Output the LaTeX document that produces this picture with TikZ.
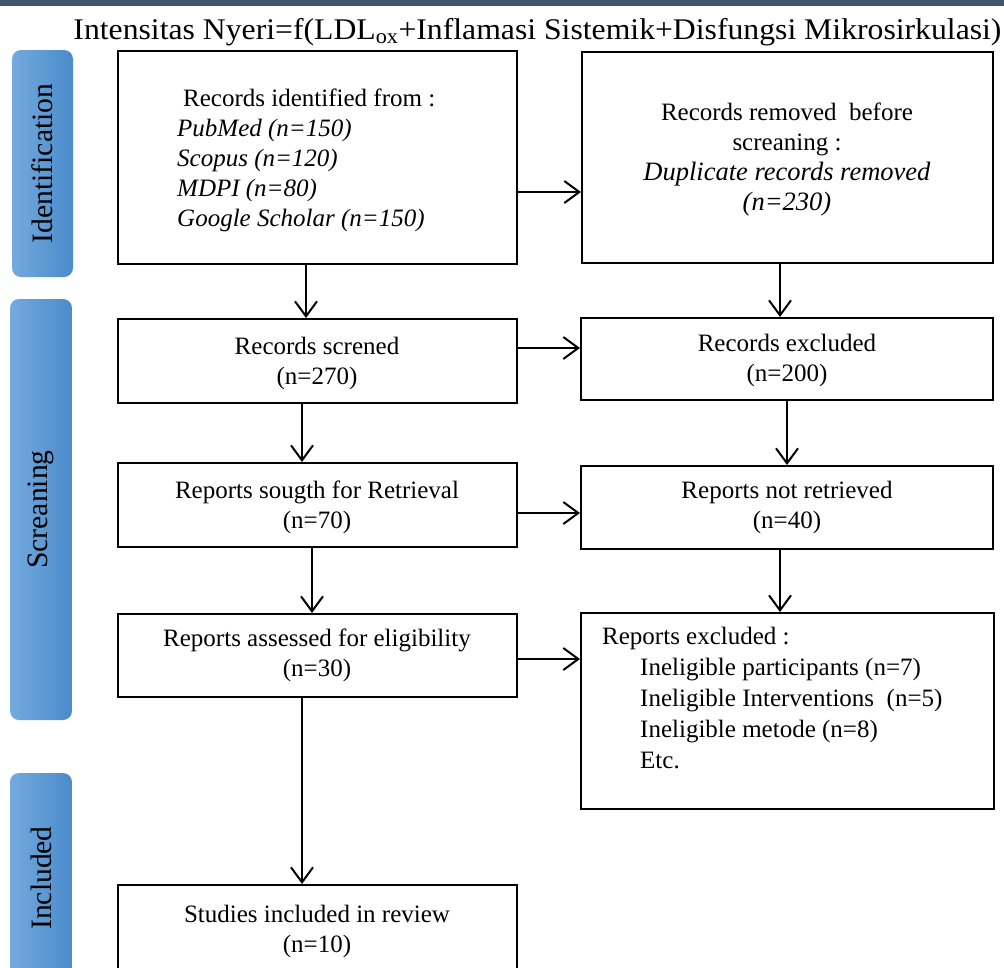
\documentclass[tikz,border=0pt]{standalone}
\usepackage{fontspec}
\setmainfont{Liberation Serif}
\usetikzlibrary{arrows.meta,shadings}
\definecolor{barcol}{HTML}{44546A}
\definecolor{bandL}{HTML}{74AADE}
\definecolor{bandR}{HTML}{4A8BCB}
\tikzset{
  box/.style={draw=black, line width=2pt, fill=white, rectangle, inner sep=0pt},
  txt/.style={font=\fontsize{25}{30}\selectfont, inner sep=0pt, align=center},
  band/.style={rounded corners=9pt, left color=bandL, right color=bandR, draw=none},
  bandtxt/.style={font=\fontsize{29.6}{32}\selectfont, rotate=90, inner sep=0pt},
  arr/.style={line width=2pt, -{Straight Barb[length=15pt,width=22pt,line width=2pt]}}
}
\begin{document}
\begin{tikzpicture}[x=1pt,y=-1pt]
\useasboundingbox (0,0) rectangle (1004,967);
\fill[white] (0,0) rectangle (1004,967);
% top bar
\fill[barcol] (0,0) rectangle (1004,6);
\node[inner sep=0pt, font=\fontsize{30}{34}\selectfont] (title) at (537.5,32) {\scalebox{1.057}[1]{Intensitas Nyeri=f(LDL\textsubscript{ox}+Inflamasi Sistemik+Disfungsi Mikrosirkulasi)}};
% side bands
\shade[band] (12,50) rectangle (73,277);
\node[bandtxt] (lid) at (42.5,163.5) {Identification};
\shade[band] (10,299) rectangle (72,720);
\node[bandtxt] (lsc) at (41,509.5) {Screaning};
\shade[band] (10,773) rectangle (72,1000);
\node[bandtxt] (lin) at (41,878) {Included};
% boxes
\node[box, minimum width=399pt, minimum height=213pt] (b1) at (317.5,157.5) {};
\node[box, minimum width=411pt, minimum height=211pt] (b2) at (787.5,157.5) {};
\node[box, minimum width=399pt, minimum height=84pt] (b3) at (317.5,361) {};
\node[box, minimum width=412pt, minimum height=82pt] (b4) at (787,359) {};
\node[box, minimum width=399pt, minimum height=84pt] (b5) at (317.5,505) {};
\node[box, minimum width=412pt, minimum height=83pt] (b6) at (787,507.5) {};
\node[box, minimum width=399pt, minimum height=83pt] (b7) at (317.5,655.5) {};
\node[box, minimum width=413pt, minimum height=196pt] (b8) at (787.5,711) {};
\node[box, minimum width=399pt, minimum height=105pt] (b9) at (317.5,937.5) {};
% texts
\node[txt, align=left, anchor=west] (t1) at (177,160) {\hspace{6pt}Records identified from :\\ \textit{PubMed (n=150)}\\ \textit{Scopus (n=120)}\\ \textit{MDPI (n=80)}\\ \textit{Google Scholar (n=150)}};
\node[txt] (t2) at (787,160) {Records removed\ \ before\\ screaning :\\ {\fontsize{26.5}{30}\selectfont\textit{Duplicate records removed}}\\ {\fontsize{26.5}{30}\selectfont\textit{(n=230)}}};
\node[txt] (t3) at (317,363) {Records screned\\ (n=270)};
\node[txt] (t4) at (787,360) {Records excluded\\ (n=200)};
\node[txt] (t5) at (317,507) {Reports sougth for Retrieval\\ (n=70)};
\node[txt] (t6) at (787,507) {Reports not retrieved\\ (n=40)};
\node[txt] (t7) at (317,655) {Reports assessed for eligibility\\ (n=30)};
\node[txt, font=\fontsize{25}{31}\selectfont, align=left, anchor=north west] (t8) at (602,627) {Reports excluded :\\ \hspace{38pt}Ineligible participants (n=7)\\ \hspace{38pt}Ineligible Interventions\ \ (n=5)\\ \hspace{38pt}Ineligible metode (n=8)\\ \hspace{38pt}Etc.};
\node[txt] (t9) at (317,931) {Studies included in review\\ (n=10)};
% arrows
\draw[arr] (b1.east |- 0,192) -- (b2.west |- 0,192);
\draw[arr] (b3.east |- 0,348) -- (b4.west |- 0,348);
\draw[arr] (b5.east |- 0,513) -- (b6.west |- 0,513);
\draw[arr] (b7.east |- 0,659) -- (b8.west |- 0,659);
\draw[arr] (b1.south -| 306,0) -- (b3.north -| 306,0);
\draw[arr] (b3.south -| 302,0) -- (b5.north -| 302,0);
\draw[arr] (b5.south -| 312,0) -- (b7.north -| 312,0);
\draw[arr] (b7.south -| 302,0) -- (b9.north -| 302,0);
\draw[arr] (b2.south -| 780,0) -- (b4.north -| 780,0);
\draw[arr] (b4.south -| 787,0) -- (b6.north -| 787,0);
\draw[arr] (b6.south -| 780,0) -- (b8.north -| 780,0);
\end{tikzpicture}
\end{document}
